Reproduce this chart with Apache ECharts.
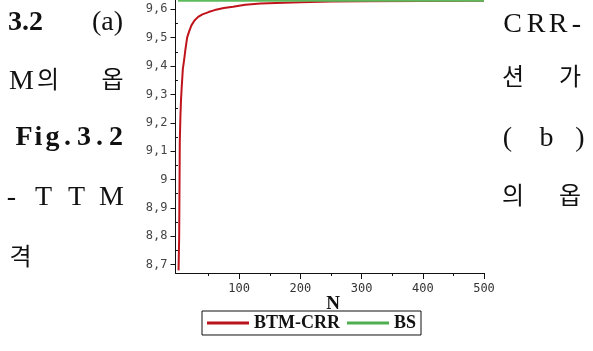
<!DOCTYPE html>
<html><head><meta charset="utf-8">
<script src="https://cdn.jsdelivr.net/npm/echarts@6/dist/echarts.min.js"></script>
<style>html,body{margin:0;padding:0;background:#fff}#c{width:593px;height:351px}</style>
</head><body><div id="c"></div>
<script>
// ---- data ----
const crrN = [1, 2, 3, 4, 5, 6, 8, 10, 12, 15, 18, 22, 27, 33, 40, 50, 60, 75, 90, 110, 135, 160, 200, 250, 300, 400, 500];
const crrV = [8.68, 8.80, 9.13, 9.22, 9.28, 9.32, 9.39, 9.42, 9.455, 9.50, 9.52, 9.543, 9.56, 9.573, 9.582, 9.59, 9.597, 9.604, 9.609, 9.616, 9.62, 9.622, 9.625, 9.627, 9.628, 9.629, 9.63];
const bsN = [0, 500];
const bsV = [9.63, 9.63];
const xTickLabels = [100, 200, 300, 400, 500];
const xMinorTicks = [50, 150, 250, 350, 450];
const yTickLabels = [8.7, 8.8, 8.9, 9.0, 9.1, 9.2, 9.3, 9.4, 9.5, 9.6];
const yMinorTicks = [8.75, 8.85, 8.95, 9.05, 9.15, 9.25, 9.35, 9.45, 9.55];
const seriesNames = ['BTM-CRR', 'BS'];
const xAxisName = 'N';

const chart = echarts.init(document.getElementById('c'), null, {renderer: 'canvas'});
const serif = '"Liberation Serif", "Noto Sans CJK KR", serif';
const mono = '"DejaVu Sans Mono", monospace';
const fmt = v => String(+(+v).toFixed(1)).replace('.', ',');

function t(x, y, s, size, bold, align) {
  return {type: 'text', x: x, y: y, silent: true,
    style: {text: s, fill: '#111', font: (bold ? 'bold ' : '') + size + 'px ' + serif,
      align: align || 'center', verticalAlign: 'middle'}};
}
const KO = 24, LA = 28;
const graphics = [
  t(8, 23, '3.2', LA, true, 'left'),
  t(107.5, 23, '(a)', LA, false),
  t(21.5, 82, 'M', LA, false),
  t(48, 82, '의', KO, false),
  t(112.5, 81.5, '옵', KO, false),
  t(24, 137.5, 'F', LA, true), t(38.5, 137.5, 'i', LA, true), t(52.5, 137.5, 'g', LA, true),
  t(67.5, 137.5, '.', LA, true), t(84, 137.5, '3', LA, true), t(99.5, 137.5, '.', LA, true),
  t(116, 137.5, '2', LA, true),
  t(11.5, 198, '-', LA, false), t(43.5, 198, 'T', LA, false), t(76.5, 198, 'T', LA, false),
  t(111.5, 198, 'M', LA, false),
  t(20.5, 258.5, '격', KO, false),
  t(512.5, 25, 'C', LA, false), t(536, 25, 'R', LA, false), t(558, 25, 'R', LA, false),
  t(576.5, 25, '-', LA, false),
  t(513, 78.5, '션', KO, false), t(570, 78.5, '가', KO, false),
  t(507.5, 139, '(', LA, false), t(546.5, 139, 'b', LA, false), t(580, 139, ')', LA, false),
  t(513, 197.5, '의', KO, false), t(570, 197.5, '옵', KO, false),
  t(333, 304, xAxisName, 19, true)
];

const xMin = -4, xMax = 500, yMin = 8.6707, yMax = 9.6325;
const axisLineStyle = {color: '#111', width: 1};

chart.setOption({
  animation: false,
  backgroundColor: '#fff',
  grid: {left: 175.5, right: 109, top: 0, bottom: 78, containLabel: false},
  xAxis: [
    {type: 'value', min: xMin, max: xMax, position: 'bottom',
     axisLine: {show: true, onZero: false, lineStyle: axisLineStyle},
     axisTick: {show: true, length: 6, inside: false, customValues: xTickLabels, lineStyle: axisLineStyle},
     axisLabel: {show: true, customValues: xTickLabels, margin: 10, color: '#333',
       fontFamily: mono, fontSize: 12},
     splitLine: {show: false}},
    {type: 'value', min: xMin, max: xMax, position: 'bottom',
     axisLine: {show: false},
     axisTick: {show: true, length: 3, customValues: xMinorTicks, lineStyle: axisLineStyle},
     axisLabel: {show: false}, splitLine: {show: false}}
  ],
  yAxis: [
    {type: 'value', min: yMin, max: yMax, position: 'left',
     axisLine: {show: true, onZero: false, lineStyle: axisLineStyle},
     axisTick: {show: true, length: 5, customValues: yTickLabels, lineStyle: axisLineStyle},
     axisLabel: {show: true, customValues: yTickLabels, margin: 8, color: '#444',
       fontFamily: mono, fontSize: 12, formatter: fmt},
     splitLine: {show: false}},
    {type: 'value', min: yMin, max: yMax, position: 'left',
     axisLine: {show: false},
     axisTick: {show: true, length: 3, customValues: yMinorTicks, lineStyle: axisLineStyle},
     axisLabel: {show: false}, splitLine: {show: false}}
  ],
  legend: {
    left: 202, top: 311, padding: [3, 5, 3, 5], itemGap: 7,
    borderColor: '#111', borderWidth: 1, backgroundColor: '#fff',
    icon: 'rect', itemWidth: 42, itemHeight: 3,
    textStyle: {fontFamily: serif, fontWeight: 'bold', fontSize: 18, color: '#111'},
    data: seriesNames
  },
  series: [
    {name: seriesNames[0], type: 'line', xAxisIndex: 0, yAxisIndex: 0, showSymbol: false, symbol: 'none',
     color: '#b8141c', lineStyle: {width: 2, color: '#c0141c'},
     data: crrN.map((n, i) => [n, crrV[i]])},
    {name: seriesNames[1], type: 'line', xAxisIndex: 0, yAxisIndex: 0, showSymbol: false, symbol: 'none',
     color: '#4fae4f', lineStyle: {width: 2, color: '#5cba5c'},
     data: bsN.map((n, i) => [n, bsV[i]])}
  ],
  graphic: graphics
});
</script></body></html>
